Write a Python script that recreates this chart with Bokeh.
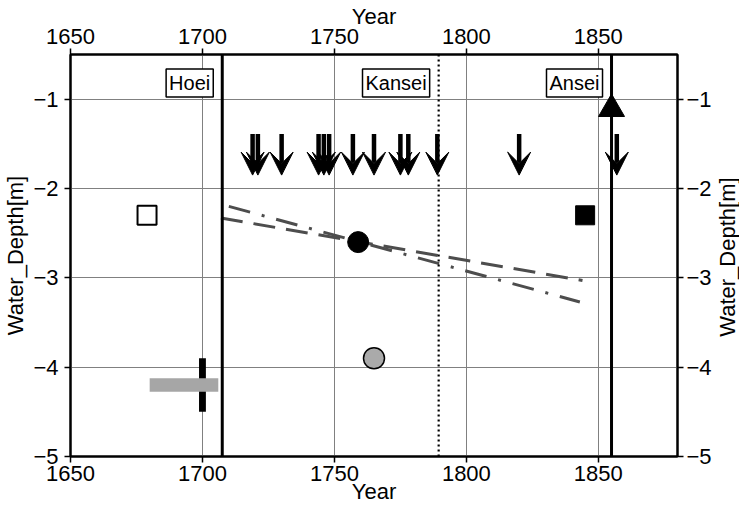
import math
from bokeh.plotting import figure
from bokeh.layouts import row
from bokeh.core.properties import value
from bokeh.models import (LinearAxis, FixedTicker, CustomJSTickFormatter, Span, Label,
                          Arrow, VeeHead, ColumnDataSource, Range1d)
from bokeh.embed import file_html
from bokeh.resources import INLINE

# ---------------- data ----------------
x_ticks = [1650, 1700, 1750, 1800, 1850]
y_ticks = [-5, -4, -3, -2, -1]
x_label = "Year"
y_label = "Water_Depth[m]"

era_names = ["Hoei", "Kansei", "Ansei"]
era_years = [1707.5, 1789.5, 1855]
era_dash = ["solid", "dotted", "solid"]

arrow_years = [1719, 1721, 1730, 1744, 1746, 1748, 1757, 1765, 1775, 1778, 1789, 1820, 1857]
arrow_top = -1.39
arrow_tip = -1.85

open_sq_year = [1679]
open_sq_depth = [-2.3]
filled_sq_year = [1845]
filled_sq_depth = [-2.3]
black_circle_year = [1759]
black_circle_depth = [-2.6]
grey_circle_year = [1765]
grey_circle_depth = [-3.9]
triangle_year = [1855]
triangle_depth = [-1.11]

grey_bar_start = [1680]
grey_bar_end = [1706]
grey_bar_depth = [-4.2]
black_bar_year = [1700]
black_bar_top = [-3.9]
black_bar_bottom = [-4.5]

trend_a_years = [1707, 1844]
trend_a_depth = [-2.33, -3.03]
trend_b_years = [1710, 1843]
trend_b_depth = [-2.20, -3.27]

FONT = "Liberation Sans"
X0, X1, Y0, Y1 = 1650, 1880, -5, -0.5
H = 506
RIGHT_W = 25

p = figure(width=739 - RIGHT_W, height=H, x_range=Range1d(X0, X1), y_range=Range1d(Y0, Y1),
           output_backend="svg", toolbar_location=None,
           min_border_left=66, min_border_right=35, min_border_top=30, min_border_bottom=30)
p.add_layout(LinearAxis(), "above")
p.add_layout(LinearAxis(), "right")

xt = FixedTicker(ticks=x_ticks)
yt = FixedTicker(ticks=y_ticks)
yfmt = CustomJSTickFormatter(code="return tick.toString().replace('-', '\\u2212');")

for ax in p.xaxis:
    ax.ticker = xt
    ax.axis_label = x_label
for ax in p.yaxis:
    ax.ticker = yt
    ax.formatter = yfmt
p.left[0].axis_label = y_label

for ax in list(p.xaxis) + list(p.yaxis):
    ax.major_tick_out = 6
    ax.major_tick_in = 0
    ax.minor_tick_line_color = None
    ax.major_tick_line_width = 1.5
    ax.major_tick_line_color = "black"
    ax.axis_line_width = 2
    ax.axis_line_color = "black"
    ax.major_label_text_font = FONT
    ax.major_label_text_font_size = "22px"
    ax.major_label_text_color = "black"
    ax.axis_label_text_font = FONT
    ax.axis_label_text_font_size = "22px"
    ax.axis_label_text_font_style = "normal"
    ax.axis_label_text_color = "black"

p.above[0].major_label_standoff = 5
p.above[0].axis_label_standoff = -3
p.below[0].major_label_standoff = 3
p.below[0].axis_label_standoff = -5
p.left[0].major_label_standoff = 6
p.left[0].axis_label_standoff = 2
p.right[0].major_label_standoff = 3

p.xgrid.ticker = xt
p.ygrid.ticker = yt
p.grid.grid_line_color = "#808080"
p.grid.grid_line_width = 1
p.outline_line_color = "black"
p.outline_line_width = 2
p.background_fill_color = "white"

# uncertainty bars
p.vbar(x=black_bar_year, bottom=black_bar_bottom, top=black_bar_top, width=2.6,
       fill_color="black", line_color=None)
p.hbar(y=grey_bar_depth, left=grey_bar_start, right=grey_bar_end, height=0.15,
       fill_color="#a6a6a6", line_color=None)

# trend lines
p.line(trend_a_years, trend_a_depth, line_width=3, line_color="#4d4d4d", line_dash="22 11")
p.line(trend_b_years, trend_b_depth, line_width=3, line_color="#4d4d4d", line_dash="22 12 3 12")

# markers
p.scatter(open_sq_year, open_sq_depth, marker="square", size=19, fill_color="white",
          line_color="black", line_width=2)
p.scatter(filled_sq_year, filled_sq_depth, marker="square", size=19, fill_color="black",
          line_color="black")
p.scatter(black_circle_year, black_circle_depth, marker="circle", size=21, fill_color="black",
          line_color="black")
p.scatter(grey_circle_year, grey_circle_depth, marker="circle", size=21, fill_color="#aaaaaa",
          line_color="black", line_width=1.5)
p.scatter(triangle_year, triangle_depth, marker="triangle", size=26, fill_color="black",
          line_color="black")

# arrows
n = len(arrow_years)
asrc = ColumnDataSource(dict(x0=arrow_years, y0=[arrow_top] * n, x1=arrow_years, y1=[arrow_tip] * n))
p.add_layout(Arrow(end=VeeHead(size=23, fill_color="black", line_color="black"),
                   x_start="x0", y_start="y0", x_end="x1", y_end="y1",
                   line_width=4.5, line_color="black", source=asrc))

# era lines & labels
for name, yr, dash in zip(era_names, era_years, era_dash):
    p.add_layout(Span(location=yr, dimension="height", line_color="black",
                      line_width=2.2 if dash == "dotted" else 3,
                      line_dash="2 3" if dash == "dotted" else "solid"))
    p.add_layout(Label(x=yr, y=-0.82, x_offset=-9, text=name, text_align="right",
                       text_baseline="middle", text_font=FONT, text_font_size="20px",
                       text_color="black", border_line_color="black", border_line_width=1.5,
                       background_fill_color="white", padding=3))

# right-hand axis title (reads bottom-to-top like the left one)
q = figure(width=RIGHT_W, height=H, x_range=Range1d(0, 1), y_range=Range1d(0, H),
           output_backend="svg", toolbar_location=None, min_border=0,
           x_axis_location=None, y_axis_location=None)
q.grid.visible = False
q.outline_line_color = None
q.background_fill_color = "white"
q.text(x=[0.5], y=[H / 2 - 2], text=[y_label], angle=math.pi / 2,
       text_font=value(FONT), text_font_size=value("22px"), text_color="black",
       text_align="center", text_baseline="middle")

layout = row(p, q, spacing=0)
open("out.html", "w").write(file_html(layout, INLINE))
